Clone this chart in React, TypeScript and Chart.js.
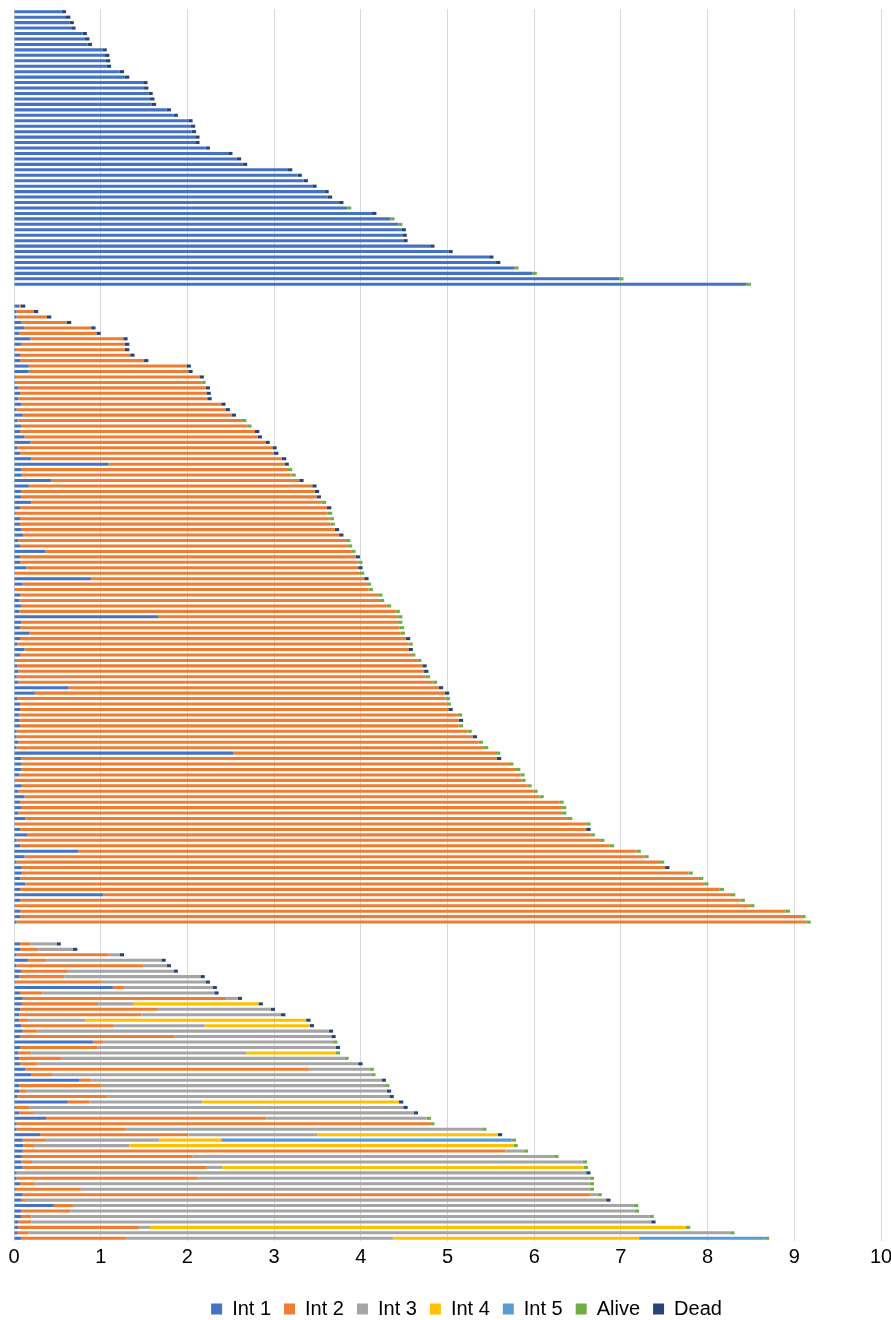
import React, { useEffect, useRef } from "react";
import { Chart, registerables } from "chart.js";

Chart.register(...registerables);

// Series shown in the legend, in stacking order (left to right).
const SERIES = ["Int 1", "Int 2", "Int 3", "Int 4", "Int 5", "Alive", "Dead"];
const COLORS = ["#4472C4", "#ED7D31", "#A5A5A5", "#FFC000", "#5B9BD5", "#70AD47", "#264478"];

// X axis range and tick step.
const X_MIN = 0;
const X_MAX = 10;
const X_STEP = 1;

// Length of the status marker (Alive / Dead) at the end of each bar.
const END_MARK = 0.05;
// Empty rows between the three cohorts.
const GAP_ROWS = 3;

// Cohort A: Int 1 only.
const cohortAInt1 = [
  0.55, 0.60, 0.64, 0.66, 0.79, 0.82, 0.85, 1.02, 1.05, 1.06,
  1.07, 1.22, 1.28, 1.49, 1.50, 1.55, 1.57, 1.59, 1.76, 1.84,
  2.01, 2.04, 2.05, 2.09, 2.09, 2.21, 2.47, 2.57, 2.64, 3.16,
  3.27, 3.34, 3.44, 3.58, 3.62, 3.75, 3.84, 4.13, 4.34, 4.43,
  4.47, 4.48, 4.49, 4.80, 5.01, 5.48, 5.56, 5.77, 5.98, 6.98,
  8.45,
];
const cohortAStatus =
  "DDDDDDDDDD" + "DDDDDDDDDD" + "DDDDDDDDDD" + "DDDDDDADAA" + "DDDDDDDAAA" + "A";

// Cohort B: Int 1 followed by Int 2.
const cohortBInt1 = [
  0.06, 0.03, 0.03, 0.08, 0.12, 0.06, 0.19, 0.08, 0.02, 0.07,
  0.07, 0.17, 0.17, 0.02, 0.02, 0.05, 0.07, 0.05, 0.08, 0.03,
  0.10, 0.04, 0.08, 0.07, 0.12, 0.19, 0.04, 0.07, 0.20, 1.09,
  0.08, 0.09, 0.43, 0.17, 0.08, 0.08, 0.20, 0.07, 0.02, 0.07,
  0.07, 0.08, 0.11, 0.05, 0.07, 0.36, 0.07, 0.07, 0.14, 0.01,
  0.89, 0.10, 0.01, 0.07, 0.06, 0.08, 0.06, 1.66, 0.08, 0.07,
  0.18, 0.07, 0.04, 0.12, 0.07, 0.02, 0.04, 0.05, 0.03, 0.05,
  0.63, 0.24, 0.04, 0.07, 0.07, 0.06, 0.06, 0.07, 0.03, 0.03,
  0.05, 0.03, 2.53, 0.08, 0.08, 0.08, 0.06, 0.01, 0.09, 0.05,
  0.12, 0.07, 0.09, 0.05, 0.13, 0.01, 0.07, 0.15, 0.03, 0.07,
  0.74, 0.12, 0.03, 0.09, 0.09, 0.07, 0.13, 0.07, 1.03, 0.07,
  0.01, 0.07, 0.07, 0.03,
];
const cohortBInt2 = [
  0.02, 0.20, 0.35, 0.53, 0.77, 0.89, 1.07, 1.20, 1.26, 1.27,
  1.43, 1.82, 1.84, 2.12, 2.14, 2.16, 2.15, 2.18, 2.31, 2.41,
  2.41, 2.59, 2.61, 2.71, 2.69, 2.71, 2.94, 2.93, 2.89, 2.03,
  3.08, 3.11, 2.86, 3.27, 3.39, 3.41, 3.35, 3.54, 3.60, 3.57,
  3.58, 3.62, 3.64, 3.78, 3.78, 3.53, 3.87, 3.90, 3.83, 3.98,
  3.15, 3.97, 4.08, 4.13, 4.16, 4.22, 4.34, 2.77, 4.35, 4.38,
  4.28, 4.45, 4.51, 4.43, 4.51, 4.63, 4.67, 4.68, 4.72, 4.78,
  4.27, 4.73, 4.94, 4.92, 4.94, 5.06, 5.07, 5.06, 5.20, 5.26,
  5.31, 5.39, 3.03, 5.49, 5.63, 5.71, 5.78, 5.84, 5.83, 5.94,
  5.94, 6.22, 6.23, 6.27, 6.26, 6.59, 6.53, 6.50, 6.73, 6.80,
  6.44, 7.15, 7.42, 7.42, 7.69, 7.83, 7.83, 8.07, 7.24, 8.31,
  8.48, 8.83, 9.01, 9.11,
];
const cohortBStatus =
  "DDDDDDDDDD" + "DDDDADDDDD" + "DAADDDDDDD" + "AADDDDADAA" + "ADDAAADADA" +
  "DAAAAAAAAA" + "ADADAADDAA" + "DDAADADAAD" + "AAADAAAAAA" + "AAAAAADAAA" +
  "AAADAAAAAA" + "AAAA";

// Cohort C: up to five consecutive intervals.
const cohortCInt1 = [
  0.07, 0.07, 0.03, 0.16, 0.03, 0.08, 0.06, 0.02, 1.14, 0.07,
  0.10, 0.09, 0.07, 0.06, 0.06, 0.08, 0.10, 0.07, 0.91, 0.07,
  0.05, 0.06, 0.07, 0.13, 0.20, 0.75, 0.06, 0.06, 0.04, 0.62,
  0.02, 0.06, 0.37, 0.03, 0.03, 0.30, 0.10, 0.11, 0.10, 0.09,
  0.08, 0.10, 0.03, 0.03, 0.07, 0.02, 0.10, 0.08, 0.46, 0.08,
  0.08, 0.05, 0.05, 0.04, 0.08,
];
const cohortCInt2 = [
  0.12, 0.21, 1.06, 0.21, 1.46, 0.54, 0.52, 0.98, 0.13, 0.26,
  2.35, 0.88, 1.59, 1.41, 0.10, 1.07, 0.17, 1.78, 0.12, 0.89,
  0.15, 0.49, 0.20, 3.28, 0.24, 0.14, 0.94, 0.08, 1.03, 0.25,
  0.16, 0.16, 2.54, 4.77, 1.25, 1.71, 0.27, 0.13, 5.57, 1.97,
  0.13, 2.12, 0, 2.09, 0.17, 0.75, 6.55, 0.06, 0.22, 0.57,
  0.12, 0.15, 1.39, 0.13, 1.21,
];
const cohortCInt3 = [
  0.30, 0.40, 0.13, 1.33, 0.27, 1.22, 1.57, 1.21, 1.02, 1.98,
  0.13, 0.41, 1.30, 1.61, 0.66, 1.05, 3.36, 1.81, 2.65, 2.75,
  2.48, 3.26, 3.70, 0.69, 3.68, 3.35, 3.28, 4.16, 3.26, 1.30,
  4.31, 4.39, 1.85, 0, 4.12, 1.49, 1.30, 1.09, 0.21, 4.17,
  6.35, 0.18, 6.57, 4.52, 6.40, 5.87, 0.08, 6.69, 6.47, 6.51,
  7.13, 7.15, 0.13, 8.09, 3.08,
];
const cohortCInt4 = [
  0, 0, 0, 0, 0, 0, 0, 0, 0, 0,
  0, 1.44, 0, 0, 2.55, 1.21, 0, 0, 0, 0,
  1.03, 0, 0, 0, 0, 0, 0, 0, 0, 2.27,
  0, 0, 0, 0, 0, 2.08, 0.72, 4.43, 0, 0,
  0, 4.17, 0, 0, 0, 0, 0, 0, 0, 0,
  0, 0, 6.18, 0, 2.84,
];
const cohortCInt5 = [
  0, 0, 0, 0, 0, 0, 0, 0, 0, 0,
  0, 0, 0, 0, 0, 0, 0, 0, 0, 0,
  0, 0, 0, 0, 0, 0, 0, 0, 0, 0,
  0, 0, 0, 0, 0, 0, 3.35, 0, 0, 0,
  0, 0, 0, 0, 0, 0, 0, 0, 0, 0,
  0, 0, 0, 0, 1.45,
];
const cohortCStatus =
  "DDDDDDDDDD" + "DDDDDDDDAD" + "AADAADADDD" + "DDAAADAAAA" + "AADAAAADAA" + "ADAAA";

type Row = (number | null)[] | null;

function statusCells(s: string): [number | null, number | null] {
  return s === "A" ? [END_MARK, null] : [null, END_MARK];
}

function nz(v: number): number | null {
  return v > 0 ? v : null;
}

function buildRows() {
  const labels: string[] = [];
  const rows: Row[] = [];
  const gap = (tag: string) => {
    for (let i = 0; i < GAP_ROWS; i++) {
      labels.push(`${tag}${i}`);
      rows.push(null);
    }
  };
  cohortAInt1.forEach((v, i) => {
    labels.push(`A${i + 1}`);
    rows.push([nz(v), null, null, null, null, ...statusCells(cohortAStatus[i])]);
  });
  gap("gapAB");
  cohortBInt1.forEach((v, i) => {
    labels.push(`B${i + 1}`);
    rows.push([nz(v), nz(cohortBInt2[i]), null, null, null, ...statusCells(cohortBStatus[i])]);
  });
  gap("gapBC");
  cohortCInt1.forEach((v, i) => {
    labels.push(`C${i + 1}`);
    rows.push([
      nz(v),
      nz(cohortCInt2[i]),
      nz(cohortCInt3[i]),
      nz(cohortCInt4[i]),
      nz(cohortCInt5[i]),
      ...statusCells(cohortCStatus[i]),
    ]);
  });
  return { labels, rows };
}

const FONT = "'Liberation Sans', Arial, Helvetica, sans-serif";

// Nudges the legend row to the right of the canvas centre.
const LEGEND_SHIFT = 19;
const legendShift = {
  id: "legendShift",
  afterLayout(chart: any) {
    const lg = chart.legend;
    if (lg) {
      lg.left += LEGEND_SHIFT;
      lg.right += LEGEND_SHIFT;
    }
  },
};

export default function App() {
  const canvasRef = useRef<HTMLCanvasElement | null>(null);

  useEffect(() => {
    document.body.style.margin = "0";
    const canvas = canvasRef.current;
    if (!canvas) return;
    const { labels, rows } = buildRows();
    const datasets = SERIES.map((name, k) => ({
      label: name,
      data: rows.map((r) => (r ? r[k] : null)),
      backgroundColor: COLORS[k],
      borderWidth: 0,
      barPercentage: 1,
      categoryPercentage: 0.56,
    }));

    const chart = new Chart(canvas, {
      type: "bar",
      data: { labels, datasets },
      plugins: [legendShift],
      options: {
        indexAxis: "y",
        responsive: false,
        animation: false,
        devicePixelRatio: 1,
        layout: { padding: { left: 14, right: 10, top: 9, bottom: 0 } },
        scales: {
          x: {
            type: "linear",
            stacked: true,
            min: X_MIN,
            max: X_MAX,
            ticks: {
              stepSize: X_STEP,
              padding: 4,
              color: "#000",
              font: { family: FONT, size: 20 },
            },
            grid: { color: "#d9d9d9", lineWidth: 1, drawTicks: false },
            border: { display: false },
            afterFit: (scale: any) => {
              scale.height = 45;
              scale.paddingLeft = 0;
              scale.paddingRight = 0;
            },
          },
          y: {
            type: "category",
            stacked: true,
            display: false,
          },
        },
        plugins: {
          legend: {
            position: "bottom",
            labels: {
              boxWidth: 11,
              boxHeight: 11,
              padding: 13,
              color: "#000",
              font: { family: FONT, size: 20 },
            },
          },
          tooltip: { enabled: false },
        },
      },
    });
    return () => chart.destroy();
  }, []);

  return (
    <div style={{ width: 891, height: 1320, overflow: "hidden" }}>
      <canvas ref={canvasRef} width={891} height={1329} style={{ display: "block" }} />
    </div>
  );
}
